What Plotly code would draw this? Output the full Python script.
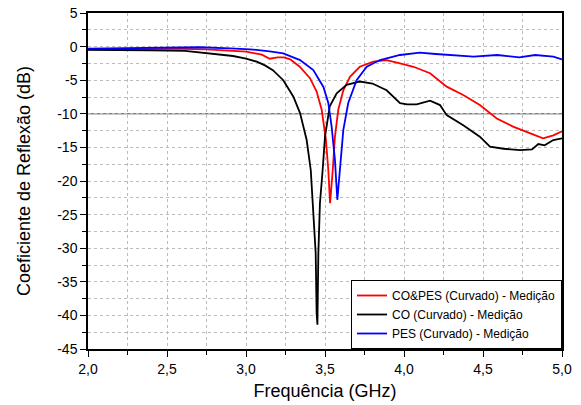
import plotly.graph_objects as go

# CO&PES (Curvado) - Medição
red_x = [2.0, 2.2, 2.4, 2.6, 2.75, 2.9, 3.0, 3.1, 3.15, 3.2, 3.24, 3.28, 3.34, 3.405, 3.447,
         3.479, 3.506, 3.521, 3.532, 3.549, 3.563, 3.584, 3.616, 3.658, 3.72, 3.806, 3.89,
         3.975, 4.06, 4.165, 4.27, 4.375, 4.48, 4.587, 4.69, 4.80, 4.88, 4.945, 5.0]
red_y = [-0.4, -0.35, -0.3, -0.35, -0.4, -0.6, -0.75, -1.2, -1.8, -1.6, -1.6, -1.9, -3.0, -4.7, -6.7,
         -9.4, -13.9, -18.4, -23.3, -18.4, -13.4, -9.4, -6.5, -4.5, -3.0, -2.25, -2.0,
         -2.5, -3.0, -3.97, -5.96, -7.2, -8.7, -10.7, -11.9, -12.9, -13.65, -13.2, -12.6]

# CO (Curvado) - Medição
black_x = [2.0, 2.2, 2.4, 2.614, 2.709, 2.82, 2.918, 3.0, 3.068, 3.12, 3.17, 3.236, 3.30, 3.342,
           3.384, 3.41, 3.43, 3.441, 3.447, 3.452, 3.458, 3.468, 3.485, 3.5, 3.53, 3.574, 3.637,
           3.72, 3.80, 3.848, 3.89, 3.975, 4.02, 4.08, 4.165, 4.228, 4.27, 4.375, 4.48, 4.544,
           4.63, 4.734, 4.81, 4.85, 4.89, 4.945, 5.0]
black_y = [-0.5, -0.5, -0.55, -0.65, -0.9, -1.1, -1.4, -1.8, -2.25, -2.8, -3.5, -5.0, -7.45, -9.9,
           -13.9, -18.4, -25.8, -30.7, -39.7, -41.4, -30.7, -23.3, -18.4, -13.4, -8.9, -6.95, -5.7,
           -5.2, -5.5, -6.0, -6.5, -8.4, -8.6, -8.6, -8.05, -8.7, -10.2, -11.7, -13.4, -14.9,
           -15.2, -15.4, -15.3, -14.5, -14.7, -13.9, -13.65]

# PES (Curvado) - Medição
blue_x = [2.0, 2.2, 2.4, 2.6, 2.709, 2.9, 3.025, 3.15, 3.236, 3.342, 3.426, 3.49, 3.521, 3.542,
          3.563, 3.578, 3.595, 3.616, 3.647, 3.70, 3.764, 3.848, 3.975, 4.10, 4.2, 4.29, 4.44,
          4.59, 4.73, 4.83, 4.945, 5.0]
blue_y = [-0.3, -0.25, -0.2, -0.15, -0.1, -0.25, -0.4, -0.7, -1.0, -2.0, -3.5, -6.0, -8.4, -11.9,
          -16.9, -22.8, -18.4, -12.4, -8.4, -5.0, -3.0, -2.0, -1.25, -0.9, -1.1, -1.25, -1.5,
          -1.25, -1.6, -1.25, -1.5, -1.9]

series_names = ["CO&PES (Curvado) - Medição", "CO (Curvado) - Medição", "PES (Curvado) - Medição"]

x_tickvals = [2.0, 2.5, 3.0, 3.5, 4.0, 4.5, 5.0]
x_ticktext = ["2,0", "2,5", "3,0", "3,5", "4,0", "4,5", "5,0"]
y_tickvals = [5, 0, -5, -10, -15, -20, -25, -30, -35, -40, -45]
y_ticktext = ["5", "0", "-5", "-10", "-15", "-20", "-25", "-30", "-35", "-40", "-45"]
ref_level = -10

font_family = "Liberation Sans, Arial, sans-serif"

fig = go.Figure()
fig.add_trace(go.Scatter(x=red_x, y=red_y, mode="lines", name=series_names[0],
                         line=dict(color="#ff0000", width=1.8)))
fig.add_trace(go.Scatter(x=black_x, y=black_y, mode="lines", name=series_names[1],
                         line=dict(color="#000000", width=1.8)))
fig.add_trace(go.Scatter(x=blue_x, y=blue_y, mode="lines", name=series_names[2],
                         line=dict(color="#0000ff", width=1.8)))

fig.add_hline(y=ref_level, line=dict(color="#444444", width=1), layer="below")

axis_common = dict(
    showline=True, linecolor="black", linewidth=1.5, mirror=True,
    ticks="outside", ticklen=6, tickwidth=1.2, tickcolor="black",
    showgrid=True, gridcolor="#bbbbbb", gridwidth=1, griddash="dot",
    zeroline=False, automargin=False,
    tickfont=dict(family=font_family, size=14, color="black"),
)

fig.update_xaxes(
    range=[2.0, 5.0], tickvals=x_tickvals, ticktext=x_ticktext,
    minor=dict(dtick=0.25, tick0=2.0, ticks="outside", ticklen=4, tickcolor="black",
               showgrid=True, gridcolor="#bbbbbb", griddash="dot"),
    title=dict(text="Frequência (GHz)", font=dict(family=font_family, size=18, color="black"),
               standoff=9),
    **axis_common,
)
fig.update_yaxes(
    range=[-45, 5], tickvals=y_tickvals, ticktext=y_ticktext,
    minor=dict(dtick=2.5, tick0=0, ticks="outside", ticklen=4, tickcolor="black",
               showgrid=True, gridcolor="#bbbbbb", griddash="dot"),
    title=dict(text="Coeficiente de Reflexão (dB)", font=dict(family=font_family, size=18, color="black"),
               standoff=22),
    **axis_common,
)

fig.update_layout(
    width=581, height=405,
    margin=dict(l=88, r=19, t=13, b=56, autoexpand=False),
    paper_bgcolor="white", plot_bgcolor="white",
    font=dict(family=font_family, color="black"),
    showlegend=True,
    legend=dict(x=1, y=0, xanchor="right", yanchor="bottom",
                bgcolor="white", bordercolor="black", borderwidth=1,
                font=dict(family=font_family, size=12, color="black"),
                itemwidth=30, tracegroupgap=0),
)

fig.write_html("out.html")
